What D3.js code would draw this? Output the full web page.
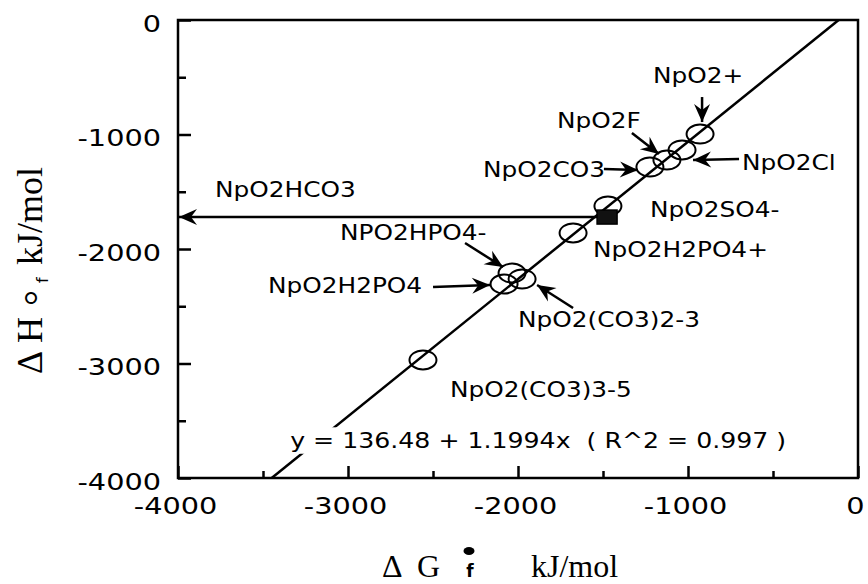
<!DOCTYPE html>
<html>
<head>
<meta charset="utf-8">
<script src="https://cdn.jsdelivr.net/npm/d3@7"></script>
<style>
  body { margin: 0; background: #fff; }
  svg { display: block; }
</style>
</head>
<body>
<svg id="chart" width="868" height="584"></svg>
<script>
// Neptunyl species: Gibbs energy vs enthalpy of formation (kJ/mol)
const species = ["NpO2+", "NpO2Cl", "NpO2F", "NpO2CO3", "NpO2SO4-", "NpO2HCO3",
                 "NpO2H2PO4+", "NpO2HPO4-", "NpO2(CO3)2-3", "NpO2H2PO4", "NpO2(CO3)3-5"];
const deltaG = [-929, -1035, -1124, -1224, -1471, -1476, -1676, -2035, -1976, -2082, -2559];
const deltaH = [-996, -1135, -1223, -1284, -1624, -1721, -1860, -2210, -2262, -2306, -2969];
// the bicarbonate complex is the one estimated value (filled marker)
const estimated = ["NpO2HCO3"];

// linear fit  dH = a + b * dG
const fitIntercept = 136.48;
const fitSlope = 1.1994;
const fitR2 = 0.997;

const xTicks = [-4000, -3000, -2000, -1000, 0];
const xTickLabels = ["-4000", "-3000", "-2000", "-1000", "0"];
const yTicks = [-4000, -3000, -2000, -1000, 0];
const yTickLabels = ["-4000", "-3000", "-2000", "-1000", "0"];
const minorTicks = [-3500, -2500, -1500, -500];

// callout layout: label offset and arrow (tail -> tip) offsets in px from the marker
const callouts = [
  { name: "NpO2+",        text: "NpO2+",        lx: -47,  ly: -51, arrow: [2, -37, 2, -12] },
  { name: "NpO2Cl",       text: "NpO2Cl",       lx: 60,   ly: 20,  arrow: [57, 9, 11, 10] },
  { name: "NpO2F",        text: "NpO2F",        lx: -110, ly: -32, arrow: [-35, -27, -8, -6] },
  { name: "NpO2CO3",      text: "NpO2CO3",      lx: -167, ly: 10,  arrow: [-46, 2, -12, 3] },
  { name: "NpO2SO4-",     text: "NpO2SO4-",     lx: 42,   ly: 11 },
  { name: "NpO2HCO3",     text: "NpO2HCO3",     lx: -392, ly: -20, toAxis: true },
  { name: "NpO2H2PO4+",   text: "NpO2H2PO4+",   lx: 20,   ly: 24 },
  { name: "NpO2HPO4-",    text: "NPO2HPO4-",    lx: -172, ly: -33, arrow: [-47, -30, -9, -6] },
  { name: "NpO2H2PO4",    text: "NpO2H2PO4",    lx: -236, ly: 9,   arrow: [-71, 3, -14, 1] },
  { name: "NpO2(CO3)2-3", text: "NpO2(CO3)2-3", lx: -4,   ly: 48,  arrow: [51, 29, 15, 6] },
  { name: "NpO2(CO3)3-5", text: "NpO2(CO3)3-5", lx: 27,   ly: 37 }
];

const svg = d3.select("#chart");
const plot = { left: 178, right: 858, top: 20, bottom: 478 };

const x = d3.scaleLinear().domain([-4000, 0]).range([plot.left, plot.right]);
const y = d3.scaleLinear().domain([-4000, 0]).range([plot.bottom, plot.top]);

const sansFont = "'DejaVu Sans', sans-serif";
const serifFont = "'Liberation Serif', 'Times New Roman', serif";
const wide = 1.18;   // horizontal stretch for the wide gothic lettering

const points = species.map((s, i) => ({ name: s, g: deltaG[i], h: deltaH[i] }));
const byName = new Map(points.map(p => [p.name, p]));

// arrowhead
const defs = svg.append("defs");
defs.append("marker")
  .attr("id", "head")
  .attr("markerUnits", "userSpaceOnUse")
  .attr("viewBox", "-20 -10 22 20")
  .attr("refX", 0).attr("refY", 0)
  .attr("markerWidth", 22).attr("markerHeight", 20)
  .attr("orient", "auto")
  .append("path")
  .attr("d", "M0,0 L-18,-8 L-12,0 L-18,8 Z")
  .attr("fill", "#000");

// frame
svg.append("rect")
  .attr("x", plot.left).attr("y", plot.top)
  .attr("width", plot.right - plot.left).attr("height", plot.bottom - plot.top)
  .attr("fill", "none").attr("stroke", "#000").attr("stroke-width", 2.5);

// axes with inward ticks
const yAxis = svg.append("g").attr("transform", `translate(${plot.left},0)`)
  .call(d3.axisLeft(y).tickValues(yTicks).tickSize(-13).tickPadding(17)
        .tickFormat((d, i) => yTickLabels[i]));
svg.append("g").attr("transform", `translate(${plot.left},0)`)
  .call(d3.axisLeft(y).tickValues(minorTicks).tickSize(-8).tickFormat(""));
const xAxis = svg.append("g").attr("transform", `translate(0,${plot.bottom})`)
  .call(d3.axisBottom(x).tickValues(xTicks).tickSize(-12).tickPadding(10)
        .tickFormat((d, i) => xTickLabels[i]));
svg.append("g").attr("transform", `translate(0,${plot.bottom})`)
  .call(d3.axisBottom(x).tickValues(minorTicks).tickSize(-7).tickFormat(""));

svg.selectAll(".domain").remove();
svg.selectAll(".tick line").attr("stroke", "#000").attr("stroke-width", 2.5);

yAxis.selectAll(".tick text")
  .attr("x", null).attr("dy", null)
  .attr("transform", `translate(-17,11) scale(1.25,1)`)
  .attr("font-family", sansFont).attr("font-size", 23).attr("fill", "#000");
xAxis.selectAll(".tick text")
  .attr("y", null).attr("dy", null)
  .attr("transform", `translate(-3,36) scale(1.25,1)`)
  .attr("font-family", sansFont).attr("font-size", 23).attr("fill", "#000");

// regression line, clipped to the plot box
const gAt = h => (h - fitIntercept) / fitSlope;
const g0 = Math.max(-4000, gAt(-4000)), g1 = Math.min(0, gAt(0));
svg.append("line")
  .attr("x1", x(g0)).attr("y1", y(fitIntercept + fitSlope * g0))
  .attr("x2", x(g1)).attr("y2", y(fitIntercept + fitSlope * g1))
  .attr("stroke", "#000").attr("stroke-width", 2.5);

// fit equation with a white backing so the line breaks under it
const eq = svg.append("g");
eq.append("text")
  .attr("transform", `translate(${x(-3340)},${y(-3740)}) scale(1.2,1)`)
  .attr("font-family", sansFont).attr("font-size", 21).attr("fill", "#000")
  .attr("xml:space", "preserve")
  .text(`y = ${fitIntercept} + ${fitSlope}x  ( R^2 = ${fitR2} )`);
const eb = eq.node().getBBox();
eq.insert("rect", "text")
  .attr("x", eb.x - 4).attr("y", eb.y - 1)
  .attr("width", eb.width + 8).attr("height", eb.height + 2)
  .attr("fill", "#fff");

// markers
const openPts = points.filter(p => !estimated.includes(p.name));
const filledPts = points.filter(p => estimated.includes(p.name));
svg.append("g").selectAll("ellipse").data(openPts).join("ellipse")
  .attr("cx", d => x(d.g)).attr("cy", d => y(d.h))
  .attr("rx", 13.5).attr("ry", 9.5)
  .attr("fill", "none").attr("stroke", "#000").attr("stroke-width", 2);
svg.append("g").selectAll("rect").data(filledPts).join("rect")
  .attr("x", d => x(d.g) - 10).attr("y", d => y(d.h) - 7)
  .attr("width", 20).attr("height", 14)
  .attr("fill", "#111").attr("stroke", "#000").attr("stroke-width", 1.5);

// callout arrows and labels
const ann = svg.append("g");
callouts.forEach(c => {
  const p = byName.get(c.name);
  const px = x(p.g), py = y(p.h);
  if (c.arrow) {
    ann.append("line")
      .attr("x1", px + c.arrow[0]).attr("y1", py + c.arrow[1])
      .attr("x2", px + c.arrow[2]).attr("y2", py + c.arrow[3])
      .attr("stroke", "#000").attr("stroke-width", 2.5)
      .attr("marker-end", "url(#head)");
  }
  if (c.toAxis) {
    ann.append("line")
      .attr("x1", px - 10).attr("y1", py)
      .attr("x2", x(-4000) + 1).attr("y2", py)
      .attr("stroke", "#000").attr("stroke-width", 2.5)
      .attr("marker-end", "url(#head)");
  }
  ann.append("text")
    .attr("transform", `translate(${px + c.lx},${py + c.ly}) scale(${wide},1)`)
    .attr("font-family", sansFont).attr("font-size", 21).attr("fill", "#000")
    .text(c.text);
});

// x axis title: ΔG°f kJ/mol (the degree mark drawn as a dot over the f)
const xt = svg.append("g").attr("font-family", serifFont).attr("font-size", 32).attr("fill", "#000");
xt.append("text").attr("x", 382).attr("y", 577).text("Δ");
xt.append("text").attr("x", 417).attr("y", 577).text("G");
xt.append("ellipse").attr("cx", 469).attr("cy", 551).attr("rx", 5.5).attr("ry", 4).attr("fill", "#000");
xt.append("text").attr("x", 470).attr("y", 577).attr("text-anchor", "middle")
  .attr("font-family", sansFont).attr("font-size", 17).attr("font-weight", "bold").text("f");
xt.append("text").attr("x", 531).attr("y", 577).text("kJ/mol");

// y axis title: ΔH°f kJ/mol, rotated
const yt = svg.append("g").attr("transform", "translate(42,372) rotate(-90)")
  .attr("font-family", serifFont).attr("font-size", 36).attr("fill", "#000");
yt.append("text").attr("x", -2).attr("y", 0).text("Δ");
yt.append("text").attr("x", 29).attr("y", 0).text("H");
yt.append("text").attr("x", 66).attr("y", 10).attr("font-size", 40).text("°");
yt.append("text").attr("x", 89).attr("y", 6).attr("font-family", sansFont)
  .attr("font-size", 16).text("f");
yt.append("text").attr("x", 107).attr("y", 0).text("kJ/mol");
</script>
</body>
</html>
